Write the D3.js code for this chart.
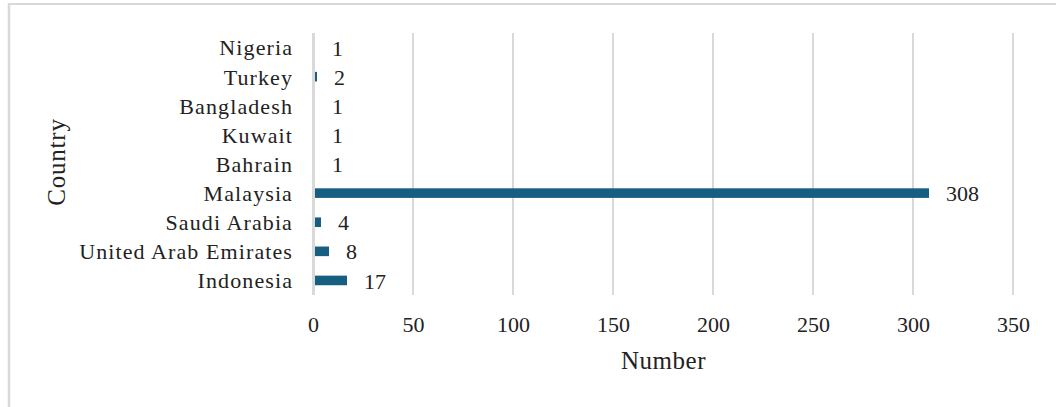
<!DOCTYPE html>
<html>
<head>
<meta charset="utf-8">
<script src="https://cdn.jsdelivr.net/npm/d3@7"></script>
<style>
  html, body { margin: 0; padding: 0; background: #fff; }
  svg { display: block; }
</style>
</head>
<body>
<svg id="chart" width="1056" height="407"></svg>
<script>
// Countries listed top to bottom, with their counts
const countries = ["Nigeria", "Turkey", "Bangladesh", "Kuwait", "Bahrain",
                   "Malaysia", "Saudi Arabia", "United Arab Emirates", "Indonesia"];
const counts = [1, 2, 1, 1, 1, 308, 4, 8, 17];
const xTicks = [0, 50, 100, 150, 200, 250, 300, 350];

const FONT = "'Liberation Serif', 'Times New Roman', 'DejaVu Serif', serif";
const INK = "#222";

const svg = d3.select("#chart");
const W = 1056, H = 407;

// Frame lines along the top and left edges
svg.append("line").attr("x1", 8).attr("x2", W).attr("y1", 4).attr("y2", 4)
  .attr("stroke", "#d9d9d9").attr("stroke-width", 2);
svg.append("line").attr("x1", 9).attr("x2", 9).attr("y1", 3).attr("y2", H)
  .attr("stroke", "#d9d9d9").attr("stroke-width", 2.5);

const plot = { left: 313, right: 1013, top: 33, bottom: 295 };

const x = d3.scaleLinear().domain([0, 350]).range([plot.left, plot.right]);
const y = d3.scaleBand().domain(countries).range([plot.top, plot.bottom])
  .paddingInner(0.67).paddingOuter(0.335);

const data = countries.map((c, i) => ({ country: c, value: counts[i] }));

// Vertical gridlines behind the bars
svg.append("g").selectAll("line").data(xTicks.filter(d => d !== 0)).join("line")
  .attr("x1", d => x(d)).attr("x2", d => x(d))
  .attr("y1", plot.top).attr("y2", plot.bottom)
  .attr("stroke", "#d9d9d9").attr("stroke-width", 2);

// Bars
svg.append("g").selectAll("rect").data(data).join("rect")
  .attr("x", x(0))
  .attr("y", d => y(d.country))
  .attr("width", d => x(d.value) - x(0))
  .attr("height", y.bandwidth())
  .attr("fill", "#175f80");

// Zero line sits on top of the bars
svg.append("line")
  .attr("x1", x(0) + 0.5).attr("x2", x(0) + 0.5)
  .attr("y1", plot.top).attr("y2", plot.bottom)
  .attr("stroke", "#d9d9d9").attr("stroke-width", 3);

// X axis tick labels
const xAxis = d3.axisBottom(x).tickValues(xTicks).tickSize(0).tickPadding(0);
const gx = svg.append("g").attr("transform", `translate(0,332)`).call(xAxis);
gx.attr("font-family", null).attr("font-size", null);
gx.select(".domain").remove();
gx.selectAll("text").style("font-family", FONT).style("font-size", "22px")
  .attr("fill", INK).attr("dy", 0);

// Y axis category labels
const yAxis = d3.axisLeft(y).tickSize(0).tickPadding(0);
const gy = svg.append("g").attr("transform", `translate(${plot.left - 20},0)`).call(yAxis);
gy.attr("font-family", null).attr("font-size", null);
gy.select(".domain").remove();
gy.selectAll("text").style("font-family", FONT).style("font-size", "22px")
  .style("letter-spacing", "1.1px")
  .attr("fill", INK).attr("dy", "0.36em");

// Value labels
svg.append("g").selectAll("text").data(data).join("text")
  .attr("x", d => x(d.value) + 17)
  .attr("y", d => y(d.country) + y.bandwidth() / 2)
  .attr("dy", "0.37em")
  .style("font-family", FONT).style("font-size", "22px")
  .attr("fill", INK)
  .text(d => d.value);

// Axis titles
svg.append("text")
  .attr("x", 663.5).attr("y", 369)
  .attr("text-anchor", "middle")
  .style("font-family", FONT).style("font-size", "25px")
  .style("letter-spacing", "0.5px")
  .attr("fill", INK)
  .text("Number");

svg.append("text")
  .attr("transform", `translate(65,162) rotate(-90)`)
  .attr("text-anchor", "middle")
  .style("font-family", FONT).style("font-size", "25px")
  .style("letter-spacing", "0.8px")
  .attr("fill", INK)
  .text("Country");
</script>
</body>
</html>
